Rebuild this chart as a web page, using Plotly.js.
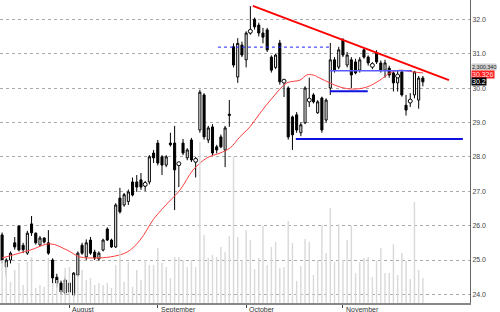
<!DOCTYPE html>
<html>
<head>
<meta charset="utf-8">
<script src="https://cdn.plot.ly/plotly-3.0.1.min.js"></script>
<style>html,body{margin:0;padding:0;background:#fff;}#chart{width:500px;height:312px;}</style>
</head>
<body>
<div id="chart"></div>
<script>
// ---- data ----
const openP  = [25.73,24.80,25.00,25.50,25.99,25.43,25.20,26.05,25.78,25.44,25.64,25.50,25.00,24.50,24.33,24.04,24.07,23.98,24.56,25.43,
                25.09,25.58,25.23,25.03,25.29,25.90,25.58,25.38,26.80,26.60,26.70,27.27,27.27,27.33,27.15,27.27,28.11,28.40,28.00,27.76,
                28.40,28.40,27.76,28.40,27.97,28.49,27.85,28.78,29.80,28.49,28.87,28.29,28.58,28.20,29.20,31.20,30.32,31.25,30.82,31.60,
                32.00,31.83,31.60,31.69,30.90,30.60,31.31,30.18,30.00,29.16,29.22,28.70,28.99,29.62,29.80,29.28,29.71,29.07,30.00,30.82,
                30.61,31.40,30.67,30.82,30.76,30.52,31.11,30.90,30.64,31.02,30.73,30.52,30.58,30.44,30.15,30.47,29.50,29.60,29.80,29.65,30.29];
const highP  = [25.80,25.05,25.25,25.67,26.00,25.50,25.85,26.28,25.80,25.70,25.66,25.87,25.05,24.60,24.40,24.50,24.40,24.65,25.25,25.50,
                25.60,25.67,25.30,25.25,25.62,25.95,25.62,26.65,27.10,26.95,27.05,27.40,27.47,27.53,27.30,28.05,28.20,28.49,28.05,28.05,
                28.70,28.90,27.85,28.52,28.25,28.55,28.00,29.95,29.85,28.90,28.95,28.35,28.65,28.90,29.65,31.30,31.45,31.35,31.65,32.38,
                32.05,31.90,31.75,31.75,30.95,31.00,31.40,30.25,30.05,29.20,29.30,29.00,30.05,30.30,29.85,29.65,29.75,29.70,31.31,30.90,
                31.20,31.45,31.05,30.90,30.85,30.90,31.15,30.95,30.75,31.10,30.80,30.82,30.65,30.50,30.50,30.52,29.80,29.85,30.50,30.35,30.35];
const lowP   = [24.90,24.55,24.90,25.30,25.25,25.20,25.15,25.70,25.45,25.40,25.48,25.15,24.27,24.20,24.00,23.98,24.00,23.90,24.50,25.15,
                25.00,25.15,25.00,24.98,25.25,25.55,25.35,25.35,26.35,26.55,26.60,26.85,26.98,27.04,27.00,27.20,27.82,27.75,27.47,27.70,
                28.30,26.45,27.12,28.05,27.90,27.85,27.40,28.70,28.50,28.40,28.05,28.10,28.25,27.70,28.87,30.60,30.15,30.90,30.60,31.55,
                31.70,31.50,31.30,31.05,30.45,30.55,30.10,29.74,28.50,28.20,28.70,28.60,28.95,29.45,29.55,29.25,28.70,29.00,29.80,30.45,
                30.55,30.90,30.60,30.00,30.40,30.45,30.85,30.65,30.55,30.70,30.45,30.30,30.30,29.90,29.90,29.75,29.20,29.45,29.70,29.40,30.05];
const closeP = [25.00,25.00,25.20,25.38,25.29,25.30,25.78,25.79,25.50,25.64,25.52,25.20,24.48,24.33,24.07,24.42,24.33,24.62,25.20,25.20,
                25.50,25.20,25.06,25.20,25.58,25.58,25.38,26.60,26.40,26.90,26.98,26.89,27.12,27.12,27.20,28.00,27.97,27.82,27.76,28.00,
                28.35,27.62,27.80,28.11,28.20,27.91,27.90,29.88,28.58,28.84,28.11,28.20,28.29,28.84,29.24,30.67,31.30,30.96,31.60,31.65,
                31.78,31.60,31.48,31.11,30.52,30.96,30.18,30.20,28.58,28.64,28.78,28.93,30.00,29.65,29.60,29.60,28.78,29.65,30.82,30.52,
                31.11,30.96,30.96,30.38,30.44,30.82,30.90,30.73,30.66,30.76,30.52,30.73,30.38,30.15,30.35,29.80,29.36,29.62,30.47,30.29,30.18];
// volume in millions of shares
const volume = [3.96,3.68,1.93,3.04,3.68,1.66,3.77,4.23,1.38,1.66,1.47,4.14,1.84,2.12,1.20,3.22,3.31,0.92,2.58,3.04,
                2.12,2.30,1.66,1.84,1.66,1.84,1.38,3.50,4.88,1.93,3.77,1.47,3.04,2.12,3.96,3.50,3.50,5.06,3.68,3.31,
                2.30,4.23,4.23,3.96,3.31,3.96,3.31,14.81,6.26,4.14,4.42,4.23,5.15,4.69,6.16,13.43,6.07,3.96,6.72,5.80,
                3.13,4.14,7.08,3.50,5.15,5.61,3.22,3.31,7.54,5.52,2.02,3.40,5.89,5.61,2.58,3.96,7.18,4.60,8.74,3.77,
                7.27,3.96,5.80,7.08,2.76,3.77,4.14,4.23,2.39,3.86,5.06,2.76,2.76,5.43,2.58,4.60,3.86,2.21,9.29,3.04,2.30];
// moving average read at sample candles
const maIdx = [0,6.7,11.4,15.4,18.5,22,25.7,29.7,32.8,35.9,38.7,42.3,45.4,48.7,51.8,54.2,56.5,58.9,61.3,64.4,67.7,70.8,72.4,73.9,75.5,77.9,80.3,83.4,86.7,89.8,92.2,94.5,97.6,100];
const maVal = [25.06,25.29,25.47,25.29,25.09,25.06,25.09,25.23,25.58,26.17,26.57,27.04,27.62,27.97,28.11,28.26,28.58,28.87,29.27,29.74,30.15,30.23,30.38,30.38,30.29,30.15,30.03,29.97,30.03,30.23,30.44,30.52,30.47,30.44];
const circleIdx = [34,42,46,59,67,73,88,94,97];
const monthLabels = ['August','September','October','November'];
const monthStart = [16,37,58,81];
const yTicks = [24,25,26,27,28,29,30,31,32];
// drawn trend lines: [x0, y0, x1, y1]
const redTrend   = [59.6, 32.39, 106.2, 30.23];
const blueDotted = [51.3, 31.19, 77.9, 31.19];
const blueLow    = [69.8, 28.52, 109.5, 28.52];
const blueMid    = [77.9, 29.91, 86.9, 29.91];
const blueTop    = [77.9, 30.50, 97.4, 30.50];
const tagVolume = {text:'2,300,340', y:30.62, size:5.5};
const tagMA     = {text:'30.326', y:30.40, size:7};
const tagClose  = {text:'30.2', y:30.18, size:7};

const idx = closeP.map((_, i) => i);
const FONT = 'Arial, Liberation Sans, sans-serif';

const traces = [
  {type:'bar', x:idx, y:volume, yaxis:'y2', marker:{color:'#d9d9d9', line:{width:0}}, width:0.34, hoverinfo:'skip', showlegend:false},
  {type:'scatter', mode:'lines', x:maIdx, y:maVal, line:{color:'#ff4040', width:1, shape:'spline', smoothing:1}, showlegend:false, hoverinfo:'skip'},
  {type:'candlestick', x:idx, open:openP, high:highP, low:lowP, close:closeP,
   increasing:{fillcolor:'#ffffff', line:{color:'#000000', width:1}},
   decreasing:{fillcolor:'#000000', line:{color:'#000000', width:1}},
   whiskerwidth:0, showlegend:false},
  {type:'scatter', mode:'markers', x:circleIdx, y:circleIdx.map(i => closeP[i]),
   marker:{symbol:'circle', size:4, color:'#ffffff', line:{color:'#000', width:1}}, showlegend:false, hoverinfo:'skip'}
];

function seg(a, color, width, dash) {
  return {type:'line', xref:'x', yref:'y', x0:a[0], y0:a[1], x1:a[2], y1:a[3], line:{color, width, dash}};
}
const shapes = [
  seg(redTrend, '#ff0000', 2, 'solid'),
  seg(blueDotted, '#2020ff', 1, 'dot'),
  seg(blueLow, '#1010e0', 2, 'solid'),
  seg(blueMid, '#1010e0', 2, 'solid'),
  seg(blueTop, '#5a5aff', 1.5, 'solid')
];

const annotations = monthLabels.map((t, k) => ({
  x: monthStart[k], xref:'x', y:0, yref:'paper', yanchor:'top', xanchor:'left', xshift:1, yshift:-1,
  text:t, showarrow:false, font:{size:7, color:'#333', family:FONT}
}));
function tag(o, bg, fg) {
  return {x:1, xref:'paper', y:o.y, yref:'y', xanchor:'left', yanchor:'middle', text:o.text, showarrow:false,
          bgcolor:bg, font:{size:o.size, color:fg, family:FONT}, borderpad:0, xshift:1};
}
annotations.push(tag(tagVolume, '#d0d0d0', '#222'));
annotations.push(tag(tagMA, '#ff2020', '#ffe0e0'));
annotations.push(tag(tagClose, '#000000', '#ffffff'));

const layout = {
  width:500, height:312,
  margin:{l:0, r:30, t:0, b:9},
  paper_bgcolor:'#ffffff', plot_bgcolor:'#ffffff',
  showlegend:false,
  xaxis:{range:[-0.5, 111.2], rangeslider:{visible:false}, showgrid:false, zeroline:false,
         tickvals:monthStart, showticklabels:false, ticks:'outside', ticklen:3, tickcolor:'#444', tickwidth:1,
         showline:true, linecolor:'#888', linewidth:2, fixedrange:true},
  yaxis:{side:'right', range:[23.75, 32.56], tickvals:yTicks, tickformat:'.1f', showgrid:true,
         gridcolor:'#aaaaaa', griddash:'dot', gridwidth:1, zeroline:false, showline:true, linecolor:'#666', linewidth:1,
         ticks:'', tickfont:{size:7, color:'#444', family:FONT}, fixedrange:true},
  yaxis2:{overlaying:'y', range:[0, 27.88], visible:false, fixedrange:true},
  shapes, annotations
};

Plotly.newPlot('chart', traces, layout, {staticPlot:true, displayModeBar:false});
</script>
</body>
</html>
